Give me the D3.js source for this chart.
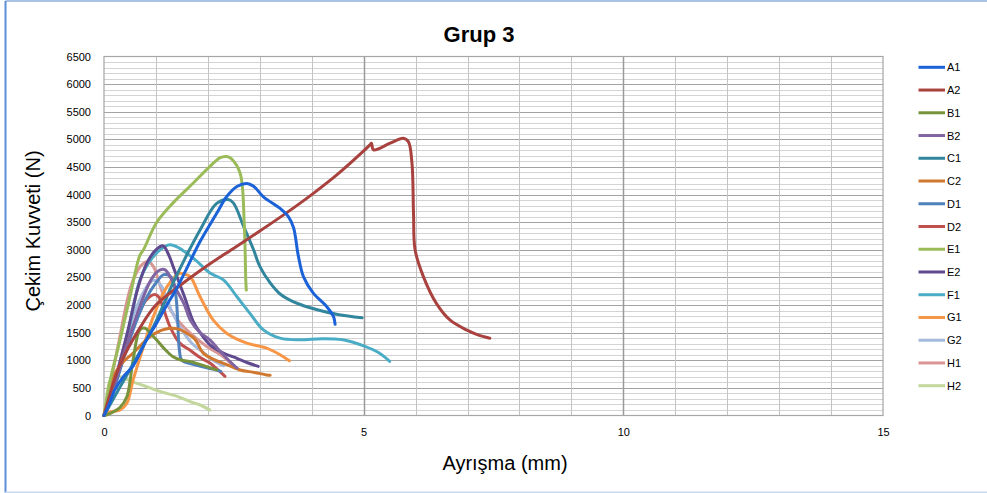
<!DOCTYPE html>
<html>
<head>
<meta charset="utf-8">
<script src="https://cdn.jsdelivr.net/npm/d3@7"></script>
<style>
  html, body { margin: 0; padding: 0; background: #fff; }
  svg { display: block; }
  text { font-family: "Liberation Sans", Arial, sans-serif; fill: #000; }
</style>
</head>
<body>
<svg id="chart" width="987" height="493"></svg>
<script>
// ---------- DATA ----------
const title = "Grup 3";
const xTitle = "Ayrışma (mm)";
const yTitle = "Çekim Kuvveti (N)";
const xTicks = [0, 5, 10, 15];
const yTicks = [0, 500, 1000, 1500, 2000, 2500, 3000, 3500, 4000, 4500, 5000, 5500, 6000, 6500];
const seriesNames = ["A1","A2","B1","B2","C1","C2","D1","D2","E1","E2","F1","G1","G2","H1","H2"];

const A1 = [[0,0],[0.1,200],[0.2,450],[0.37,700],[0.56,900],[0.82,1370],[1.0,1650],[1.21,2000],[1.4,2300],[1.56,2600],[1.85,3150],[2.17,3660],[2.36,3960],[2.56,4145],[2.75,4200],[2.88,4150],[3.07,3960],[3.39,3750],[3.55,3600],[3.65,3400],[3.74,2900],[3.84,2515],[4.03,2215],[4.29,1970],[4.42,1790],[4.45,1650]];
const A2 = [[0,0],[0.3,900],[0.7,1600],[1.0,2000],[1.5,2380],[2.0,2720],[2.5,3030],[3.0,3340],[3.5,3660],[4.0,4000],[4.5,4370],[5.0,4790],[5.12,4900],[5.15,4930],[5.19,4810],[5.51,4930],[5.76,5020],[5.86,4960],[5.93,4570],[5.96,3660],[5.99,3000],[6.15,2515],[6.40,2030],[6.66,1730],[6.98,1550],[7.2,1460],[7.43,1400]];
const B1 = [[0,0],[0.1,30],[0.31,150],[0.44,340],[0.56,1000],[0.69,1550],[0.79,1580],[0.9,1480],[1.01,1370],[1.15,1220],[1.33,1065],[1.5,1000],[1.66,975],[1.98,885],[2.17,825]];
const B2 = [[0,0],[0.2,550],[0.45,1300],[0.7,2000],[0.9,2450],[1.05,2620],[1.17,2640],[1.28,2500],[1.4,2270],[1.55,2000],[1.66,1730],[1.85,1500],[2.04,1370],[2.2,1200],[2.4,1000],[2.56,860]];
const C1 = [[0,0],[0.3,500],[0.6,1000],[1.0,1700],[1.33,2400],[1.85,3360],[2.17,3840],[2.39,3910],[2.49,3850],[2.69,3420],[2.88,3000],[3.0,2700],[3.2,2400],[3.39,2200],[3.58,2090],[3.97,1950],[4.5,1830],[4.97,1770]];
const C2 = [[0,0],[0.1,350],[0.18,700],[0.35,950],[0.56,1130],[0.89,1430],[1.1,1540],[1.27,1580],[1.45,1560],[1.59,1490],[1.75,1380],[1.91,1130],[2.1,1020],[2.3,945],[2.62,825],[2.9,780],[3.13,735],[3.2,730]];
const D1 = [[0,0],[0.2,500],[0.4,1100],[0.6,1650],[0.8,2100],[1.0,2400],[1.15,2550],[1.3,2500],[1.38,2200],[1.42,1700],[1.45,1200],[1.5,1000],[1.7,930],[1.9,880],[2.1,840],[2.25,800]];
const D2 = [[0,0],[0.15,450],[0.3,900],[0.45,1300],[0.56,1610],[0.7,1900],[0.8,2080],[0.98,2190],[1.05,2150],[1.11,2030],[1.27,1610],[1.46,1310],[1.66,1180],[1.85,1050],[2.04,950],[2.2,820],[2.33,710]];
const E1 = [[0,0],[0.12,640],[0.31,1370],[0.5,2150],[0.69,2900],[0.76,3000],[1.01,3490],[1.33,3850],[1.72,4210],[2.04,4510],[2.23,4665],[2.36,4690],[2.45,4650],[2.62,4390],[2.70,3490],[2.73,2450],[2.74,2270]];
const E2 = [[0,0],[0.2,600],[0.45,1500],[0.65,2300],[0.82,2750],[1.0,3000],[1.14,3070],[1.25,2900],[1.33,2700],[1.43,2450],[1.55,2150],[1.72,1700],[1.85,1500],[2.04,1280],[2.3,1130],[2.49,1060],[2.75,960],[2.97,890]];
const F1 = [[0,0],[0.2,500],[0.4,1200],[0.55,1900],[0.69,2450],[0.85,2750],[1.08,3000],[1.27,3090],[1.45,3030],[1.59,2940],[1.78,2800],[2.04,2580],[2.3,2455],[2.56,2150],[2.81,1850],[3.07,1550],[3.39,1400],[3.77,1370],[4.2,1390],[4.6,1370],[5.0,1260],[5.3,1130],[5.5,980]];
const G1 = [[0,0],[0.1,60],[0.31,100],[0.44,220],[0.56,640],[0.76,1250],[0.95,1790],[1.21,2330],[1.46,2575],[1.55,2560],[1.66,2515],[1.85,2150],[2.1,1730],[2.36,1490],[2.75,1310],[3.13,1220],[3.39,1100],[3.57,990]];
const G2 = [[0,0],[0.2,600],[0.4,1300],[0.6,1900],[0.8,2300],[0.95,2450],[1.1,2350],[1.3,1900],[1.5,1550],[1.7,1300],[1.9,1150],[2.1,1000],[2.3,900]];
const H1 = [[0,0],[0.15,700],[0.3,1400],[0.45,2100],[0.56,2450],[0.7,2700],[0.85,2790],[0.95,2700],[1.08,2350],[1.2,2050],[1.4,1750],[1.66,1490],[1.98,1250],[2.3,1065],[2.52,880],[2.6,830]];
const H2 = [[0,0],[0.06,400],[0.12,640],[0.2,690],[0.31,700],[0.45,650],[0.56,610],[0.8,530],[1.0,460],[1.21,400],[1.4,350],[1.66,250],[1.85,190],[2.04,100]];

const seriesValues = [A1, A2, B1, B2, C1, C2, D1, D2, E1, E2, F1, G1, G2, H1, H2];
const seriesColors = ["#1b62d8","#a9423f","#77933c","#8064a2","#31859c","#d0782f","#4f81bd","#c0504d","#9bbb59","#604a8f","#4bacc6","#f79646","#a5b9dd","#d99694","#c3d69b"];

// ---------- LAYOUT ----------
const svg = d3.select("#chart");
const W = 987, H = 493;
const plot = { left: 104, right: 883, top: 56.5, bottom: 415.5 };

const x = d3.scaleLinear().domain([0, 15]).range([plot.left, plot.right]);
const y = d3.scaleLinear().domain([0, 6500]).range([plot.bottom, plot.top]);

// outer chart-area border
svg.append("line").attr("x1", 5.5).attr("x2", W).attr("y1", 1).attr("y2", 1)
  .attr("stroke", "#8eaedb").attr("stroke-width", 1.5);
svg.append("line").attr("x1", 5.5).attr("x2", 5.5).attr("y1", 1).attr("y2", 492.5)
  .attr("stroke", "#5b8fd8").attr("stroke-width", 2);
svg.append("line").attr("x1", 5.5).attr("x2", W).attr("y1", 492.3).attr("y2", 492.3)
  .attr("stroke", "#c8daf0").attr("stroke-width", 1.5);

// grid
const g = svg.append("g");
const minorY = d3.range(100, 6500, 100).filter(v => v % 500 !== 0);
g.selectAll(".gmy").data(minorY).enter().append("line")
  .attr("x1", plot.left).attr("x2", plot.right)
  .attr("y1", d => Math.round(y(d)) + 0.5).attr("y2", d => Math.round(y(d)) + 0.5)
  .attr("stroke", "#d4d4d4").attr("stroke-width", 1);
const majorY = yTicks.filter(v => v > 0 && v < 6500);
g.selectAll(".gMy").data(majorY).enter().append("line")
  .attr("x1", plot.left).attr("x2", plot.right)
  .attr("y1", d => Math.round(y(d)) + 0.5).attr("y2", d => Math.round(y(d)) + 0.5)
  .attr("stroke", "#a3a3a3").attr("stroke-width", 1);
const vX = d3.range(1, 15);
g.selectAll(".gvx").data(vX).enter().append("line")
  .attr("y1", plot.top).attr("y2", plot.bottom)
  .attr("x1", d => Math.round(x(d)) + 0.5).attr("x2", d => Math.round(x(d)) + 0.5)
  .attr("stroke", d => d % 5 === 0 ? "#9a9a9a" : "#c4c4c4").attr("stroke-width", d => d % 5 === 0 ? 1.5 : 1);

// plot border
g.append("rect").attr("x", plot.left).attr("y", plot.top)
  .attr("width", plot.right - plot.left).attr("height", plot.bottom - plot.top)
  .attr("fill", "none").attr("stroke", "#a6a6a6").attr("stroke-width", 1.2);

// axes
const yAxis = d3.axisLeft(y).tickValues(yTicks).tickSize(0).tickPadding(13).tickFormat(d3.format("d"));
const ya = svg.append("g").attr("transform", `translate(${plot.left},0)`).call(yAxis);
ya.select(".domain").remove();
ya.selectAll("text").attr("font-size", 11).attr("font-family", "Liberation Sans, Arial, sans-serif").attr("fill", "#000");

const xAxis = d3.axisBottom(x).tickValues(xTicks).tickSize(0).tickPadding(13).tickFormat(d3.format("d"));
const xa = svg.append("g").attr("transform", `translate(0,${plot.bottom})`).call(xAxis);
xa.select(".domain").remove();
xa.selectAll("text").attr("font-size", 11).attr("font-family", "Liberation Sans, Arial, sans-serif").attr("fill", "#000");

// series
const lineAny = d3.line().x(d => x(d[0])).y(d => y(d[1])).curve(d3.curveCatmullRom.alpha(0.5));
const order = [14, 13, 12, 11, 10, 9, 7, 6, 5, 3, 2, 4, 8, 1, 0];
svg.append("g").selectAll("path").data(order).enter().append("path")
  .attr("d", i => lineAny(seriesValues[i]))
  .attr("fill", "none").attr("stroke", i => seriesColors[i])
  .attr("stroke-width", 3).attr("stroke-linejoin", "round").attr("stroke-linecap", "round");

// titles
svg.append("text").attr("x", 479).attr("y", 42).attr("text-anchor", "middle")
  .attr("font-size", 22).attr("font-weight", "bold").text(title);
svg.append("text").attr("x", 505).attr("y", 470).attr("text-anchor", "middle")
  .attr("font-size", 20).text(xTitle);
svg.append("text").attr("transform", "translate(40,231) rotate(-90)").attr("text-anchor", "middle")
  .attr("font-size", 20).text(yTitle);

// legend
const legendY = d3.scaleLinear().domain([0, seriesNames.length - 1]).range([67.3, 385.7]);
const lg = svg.append("g").selectAll("g").data(seriesNames).enter().append("g")
  .attr("transform", (d, i) => `translate(0,${legendY(i)})`);
lg.append("line").attr("x1", 918.5).attr("x2", 945).attr("y1", 0).attr("y2", 0)
  .attr("stroke", (d, i) => seriesColors[i]).attr("stroke-width", 3);
lg.append("text").attr("x", 947).attr("y", 4).attr("font-size", 11).text(d => d);
</script>
</body>
</html>
